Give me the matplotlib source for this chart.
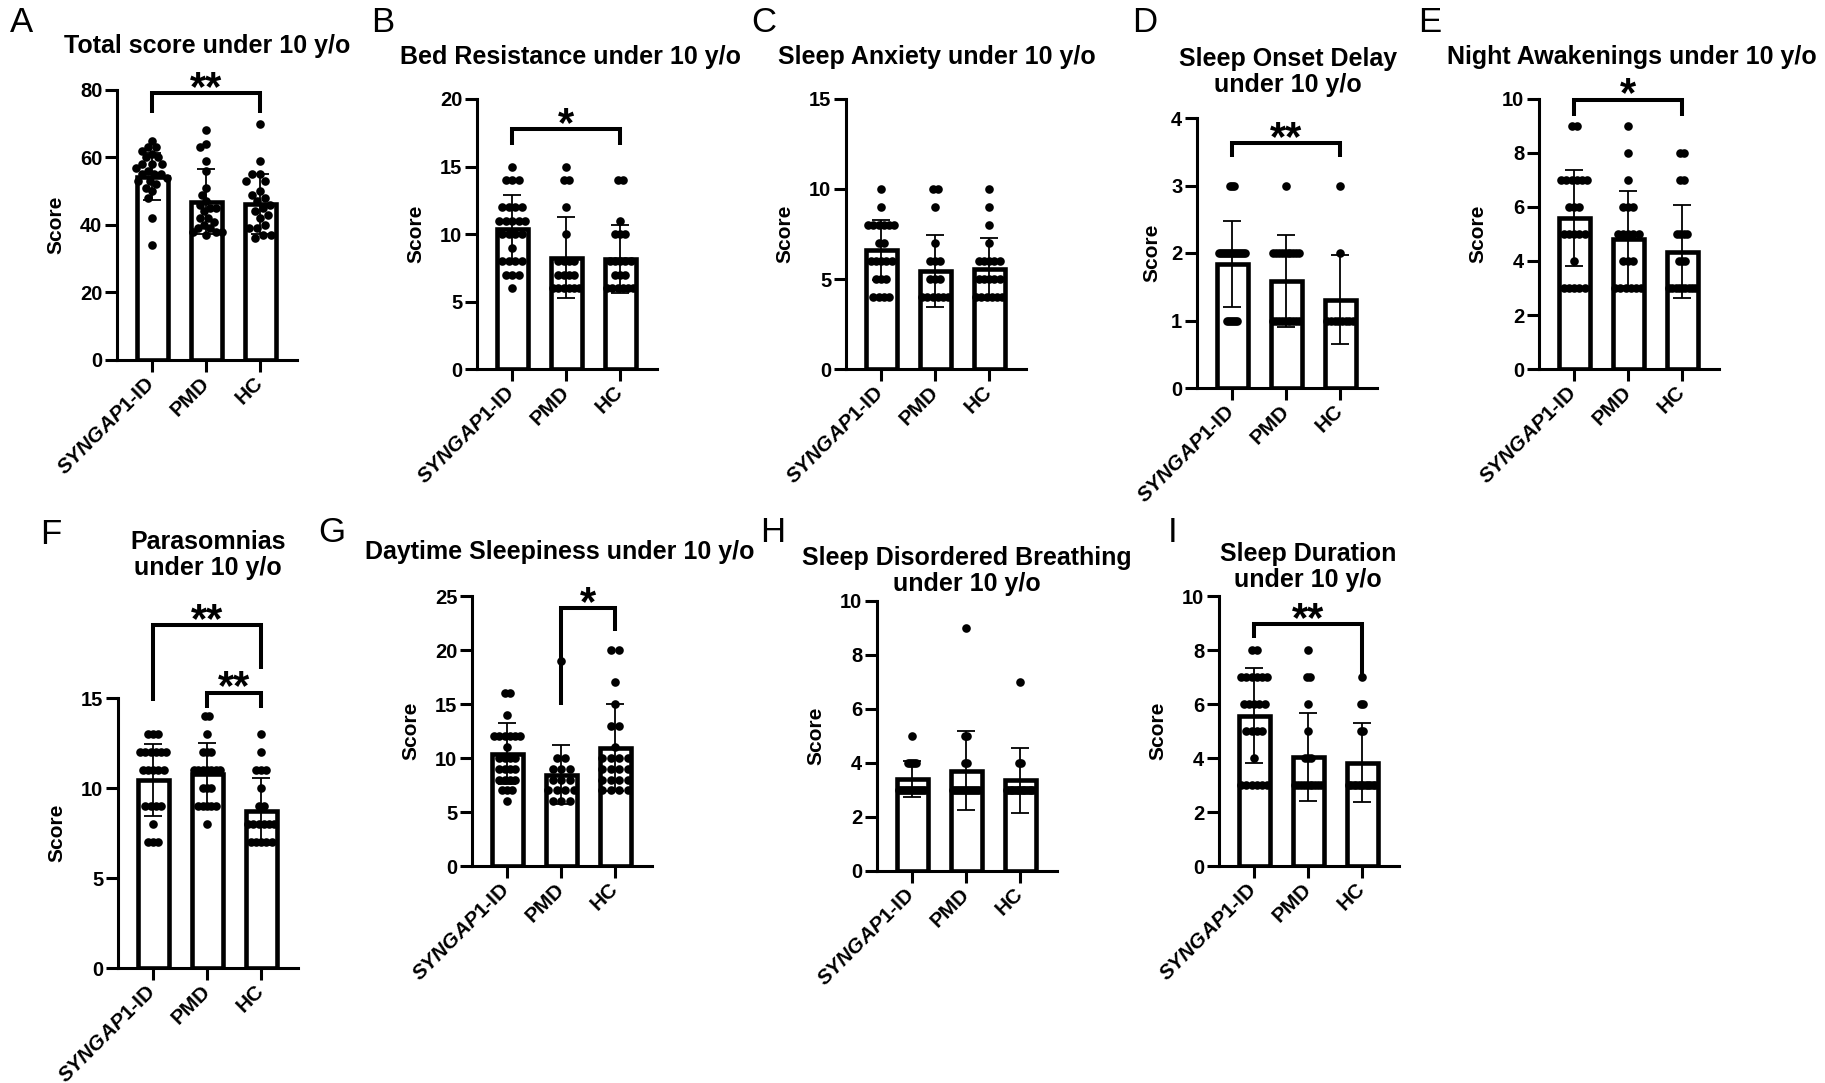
import matplotlib
matplotlib.use('Agg')
import matplotlib.pyplot as plt
import numpy as np

plt.rcParams['font.family'] = ['Liberation Sans', 'DejaVu Sans']
plt.rcParams['font.weight'] = 'bold'
plt.rcParams['mathtext.fontset'] = 'custom'
plt.rcParams['mathtext.it'] = 'Liberation Sans:italic:bold'
plt.rcParams['mathtext.rm'] = 'Liberation Sans:bold'

gW, gH = 1825, 1083
gGroups = [r'$\mathit{SYNGAP1}$-ID', 'PMD', 'HC']

# A - total score
total_syn = [65, 63, 63, 62, 61, 60, 60, 58, 58, 58, 57, 56, 55, 55, 55, 54, 53, 53, 52, 51, 50, 48, 42, 34]
total_pmd = [68, 64, 63, 59, 56, 51, 49, 47, 46, 45, 45, 44, 42, 42, 41, 40, 39, 39, 38, 38, 38, 37]
total_hc = [70, 59, 55, 55, 53, 53, 50, 49, 48, 47, 46, 45, 44, 43, 42, 40, 39, 39, 37, 37, 36]
total_mean = [54.3, 46.9, 46.2]
total_sd = [6.9, 9.7, 8.9]
total_sig = [(0, 2, 79.2, 73.2, 73.2, '**')]

# B - bed resistance
bed_syn = [15, 14, 14, 14, 12, 12, 12, 12, 11, 11, 11, 11, 11, 10, 10, 10, 10, 9, 8, 8, 8, 8, 7, 7, 7, 6]
bed_pmd = [15, 14, 14, 12, 10, 8, 8, 8, 8, 7, 7, 7, 7, 6, 6, 6, 6, 6, 6]
bed_hc = [14, 14, 11, 10, 10, 10, 8, 8, 8, 8, 8, 7, 7, 7, 6, 6, 6, 6, 6, 6]
bed_mean = [10.4, 8.25, 8.15]
bed_sd = [2.5, 3.0, 2.5]
bed_sig = [(0, 2, 17.8, 16.6, 16.6, '*')]

# C - sleep anxiety
anx_syn = [10, 9, 8, 8, 8, 8, 8, 8, 7, 7, 6, 6, 6, 6, 6, 5, 5, 5, 4, 4, 4, 4]
anx_pmd = [10, 10, 9, 7, 6, 6, 6, 5, 5, 5, 4, 4, 4, 4, 4, 4]
anx_hc = [10, 9, 8, 7, 6, 6, 6, 6, 6, 5, 5, 5, 5, 5, 4, 4, 4, 4, 4, 4]
anx_mean = [6.63, 5.45, 5.56]
anx_sd = [1.67, 2.0, 1.72]
anx_sig = []

# D - sleep onset delay
onset_syn = [3, 3, 3, 2, 2, 2, 2, 2, 2, 2, 2, 2, 2, 2, 2, 2, 2, 1, 1, 1, 1, 1, 1]
onset_pmd = [3, 2, 2, 2, 2, 2, 2, 2, 2, 2, 2, 1, 1, 1, 1, 1, 1, 1, 1, 1, 1]
onset_hc = [3, 2, 1, 1, 1, 1, 1, 1, 1, 1]
onset_mean = [1.84, 1.58, 1.31]
onset_sd = [0.64, 0.68, 0.66]
onset_sig = [(0, 2, 3.63, 3.42, 3.42, '**')]

# E - night awakenings
night_syn = [9, 9, 7, 7, 7, 7, 7, 7, 6, 6, 6, 5, 5, 5, 5, 5, 4, 3, 3, 3, 3, 3]
night_pmd = [9, 8, 7, 6, 6, 6, 5, 5, 5, 5, 5, 4, 4, 4, 3, 3, 3, 3, 3, 3]
night_hc = [8, 8, 7, 7, 5, 5, 5, 5, 4, 4, 4, 3, 3, 3, 3, 3, 3, 3, 3, 3]
night_mean = [5.6, 4.82, 4.35]
night_sd = [1.78, 1.76, 1.73]
night_sig = [(0, 2, 9.98, 9.36, 9.36, '*')]

# F - parasomnias
para_syn = [13, 13, 13, 12, 12, 12, 12, 12, 12, 11, 11, 11, 11, 11, 9, 9, 9, 9, 8, 7, 7, 7]
para_pmd = [14, 14, 13, 12, 12, 12, 11, 11, 11, 11, 11, 11, 11, 10, 10, 10, 9, 9, 9, 9, 9, 8]
para_hc = [13, 12, 11, 11, 11, 10, 9, 9, 8, 8, 8, 8, 8, 8, 7, 7, 7, 7, 7]
para_mean = [10.45, 10.8, 8.7]
para_sd = [2.0, 1.68, 1.85]
para_sig = [(0, 2, 19.04, 14.82, 16.6, '**'), (1, 2, 15.3, 14.43, 14.43, '**')]

# G - daytime sleepiness
day_syn = [16, 16, 14, 12, 12, 12, 12, 12, 12, 11, 10, 10, 10, 10, 9, 9, 9, 9, 8, 8, 8, 8, 7, 7, 7, 6]
day_pmd = [19, 10, 10, 9, 9, 9, 8, 8, 8, 7, 7, 7, 7, 6, 6, 6]
day_hc = [20, 20, 17, 15, 13, 13, 11, 10, 10, 10, 10, 9, 9, 9, 9, 8, 8, 8, 8, 7, 7, 7, 7]
day_mean = [10.4, 8.47, 10.97]
day_sd = [2.83, 2.76, 4.03]
day_sig = [(1, 2, 23.9, 14.9, 21.8, '*')]

# H - sleep disordered breathing
sdb_syn = [5, 4, 4, 4, 4, 4, 3, 3, 3, 3, 3, 3, 3, 3, 3, 3, 3, 3, 3, 3]
sdb_pmd = [9, 5, 5, 4, 4, 3, 3, 3, 3, 3, 3, 3, 3, 3, 3, 3, 3, 3, 3]
sdb_hc = [7, 4, 4, 3, 3, 3, 3, 3, 3, 3, 3, 3, 3, 3, 3, 3, 3, 3, 3]
sdb_mean = [3.4, 3.72, 3.36]
sdb_sd = [0.66, 1.45, 1.2]
sdb_sig = []

# I - sleep duration
dur_syn = [8, 8, 7, 7, 7, 7, 7, 7, 6, 6, 6, 6, 6, 5, 5, 5, 5, 4, 3, 3, 3, 3, 3, 3]
dur_pmd = [8, 7, 7, 6, 5, 4, 4, 4, 3, 3, 3, 3, 3, 3, 3, 3, 3, 3]
dur_hc = [7, 6, 6, 5, 5, 3, 3, 3, 3, 3, 3, 3, 3, 3, 3, 3, 3]
dur_mean = [5.57, 4.03, 3.83]
dur_sd = [1.75, 1.64, 1.45]
dur_sig = [(0, 2, 8.97, 8.44, 7.04, '**')]


def swarmOffsets(vals, pxPerUnit, d=8.5, maxSpan=26.0):
    vals = np.asarray(vals, dtype=float)
    offs = np.zeros(len(vals))
    if pxPerUnit >= d:
        # rows of equal values, centred, same spacing for the whole column
        uniq, counts = np.unique(vals, return_counts=True)
        kmax = counts.max()
        step = d if kmax < 2 else min(d, maxSpan / (kmax - 1))
        for u in uniq:
            idx = np.where(vals == u)[0]
            offs[idx] = (np.arange(len(idx)) - (len(idx) - 1) / 2.0) * step
        return offs
    # continuous values: simple beeswarm
    placed = []
    for i in np.argsort(-vals, kind='stable'):
        y = vals[i] * pxPerUnit
        forb = []
        for xj, yj in placed:
            dy = abs(y - yj)
            if dy < d:
                dx = np.sqrt(d * d - dy * dy)
                forb.append((xj - dx, xj + dx))
        cands = [0.0] + [a for a, b in forb] + [b for a, b in forb]
        cands.sort(key=abs)
        x = 0.0
        for c in cands:
            if all(not (a + 1e-6 < c < b - 1e-6) for a, b in forb):
                x = c
                break
        placed.append((x, y))
        offs[i] = x
    m = np.abs(offs).max()
    if m > 16:
        offs *= 16 / m
    return offs


def drawPanel(fig, box, title, titlePos, letter, letterPos, groupVals, means, sds,
              ymax, ystep, sigs, labelOff=61):
    l, t = box
    w, h = 180, 270
    ax = fig.add_axes([l / gW, 1 - (t + h) / gH, w / gW, h / gH])
    xmin, xmax = -0.65, 2.683
    pxPerCat = w / (xmax - xmin)
    pxPerUnit = h / ymax
    x = np.arange(3)

    ax.bar(x, means, width=0.575, color='white', edgecolor='black', linewidth=3.3, zorder=1)
    for i, vals in enumerate(groupVals):
        offs = swarmOffsets(vals, pxPerUnit)
        ax.plot(i + offs / pxPerCat, vals, 'o', color='black', markersize=6.2,
                markeredgewidth=0, zorder=3, clip_on=False)
    ax.errorbar(x, means, yerr=sds, fmt='none', ecolor='black', elinewidth=1.3,
                capsize=6.8, capthick=1.3, zorder=4)

    for x0, x1, top, ld, rd, txt in sigs:
        ax.plot([x0, x0, x1, x1], [ld, top, top, rd], color='black', lw=2.9,
                clip_on=False, solid_joinstyle='miter', solid_capstyle='butt', zorder=5)
        ax.annotate(txt, xy=((x0 + x1) / 2, top), xytext=(0, -5), textcoords='offset points',
                    ha='center', va='baseline', fontsize=30, fontweight='bold',
                    annotation_clip=False)

    ax.set_xlim(xmin, xmax)
    ax.set_ylim(0, ymax)
    ax.set_yticks(np.arange(0, ymax + ystep / 2, ystep))
    ax.set_xticks(x)
    ax.set_xticklabels(gGroups, rotation=45, ha='right', va='center',
                       rotation_mode='anchor', fontsize=15, fontweight='bold')
    for s in ['top', 'right']:
        ax.spines[s].set_visible(False)
    for s in ['left', 'bottom']:
        ax.spines[s].set_linewidth(2.2)
    ax.tick_params(axis='both', direction='out', length=8.6, width=2.2)
    ax.tick_params(axis='y', labelsize=14.5, pad=2)
    ax.tick_params(axis='x', pad=6)
    ax.set_ylabel('Score', fontsize=15, fontweight='bold', va='center')
    ax.yaxis.set_label_coords(-labelOff / w, 0.5)

    fig.text(titlePos[0] / gW, 1 - titlePos[1] / gH, title, ha='center', va='center',
             fontsize=18, fontweight='bold', linespacing=1.15)
    fig.text(letterPos[0] / gW, 1 - letterPos[1] / gH, letter, ha='center', va='center',
             fontsize=25, fontweight='normal')
    return ax


def main():
    fig = plt.figure(figsize=(gW / 100, gH / 100), dpi=100)
    fig.patch.set_facecolor('white')

    drawPanel(fig, (117, 90), 'Total score under 10 y/o', (207, 46), 'A', (22, 22),
              [total_syn, total_pmd, total_hc], total_mean, total_sd, 80, 20, total_sig)
    drawPanel(fig, (477, 99), 'Bed Resistance under 10 y/o', (570, 57), 'B', (383, 22),
              [bed_syn, bed_pmd, bed_hc], bed_mean, bed_sd, 20, 5, bed_sig)
    drawPanel(fig, (846, 99), 'Sleep Anxiety under 10 y/o', (937, 57), 'C', (764, 22),
              [anx_syn, anx_pmd, anx_hc], anx_mean, anx_sd, 15, 5, anx_sig)
    drawPanel(fig, (1197, 118), 'Sleep Onset Delay\nunder 10 y/o', (1288, 72), 'D', (1145, 22),
              [onset_syn, onset_pmd, onset_hc], onset_mean, onset_sd, 4, 1, onset_sig, labelOff=45)
    drawPanel(fig, (1539, 99), 'Night Awakenings under 10 y/o', (1632, 57), 'E', (1430, 22),
              [night_syn, night_pmd, night_hc], night_mean, night_sd, 10, 2, night_sig)

    drawPanel(fig, (118, 698), 'Parasomnias\nunder 10 y/o', (208, 555), 'F', (51, 534),
              [para_syn, para_pmd, para_hc], para_mean, para_sd, 15, 5, para_sig)
    drawPanel(fig, (472, 596), 'Daytime Sleepiness under 10 y/o', (560, 552), 'G', (332, 533),
              [day_syn, day_pmd, day_hc], day_mean, day_sd, 25, 5, day_sig)
    drawPanel(fig, (877, 601), 'Sleep Disordered Breathing\nunder 10 y/o', (967, 571), 'H', (773, 532),
              [sdb_syn, sdb_pmd, sdb_hc], sdb_mean, sdb_sd, 10, 2, sdb_sig)
    drawPanel(fig, (1219, 596), 'Sleep Duration\nunder 10 y/o', (1308, 567), 'I', (1173, 532),
              [dur_syn, dur_pmd, dur_hc], dur_mean, dur_sd, 10, 2, dur_sig)

    fig.savefig('out.png', dpi=100, facecolor='white')


if __name__ == "__main__":
    main()
